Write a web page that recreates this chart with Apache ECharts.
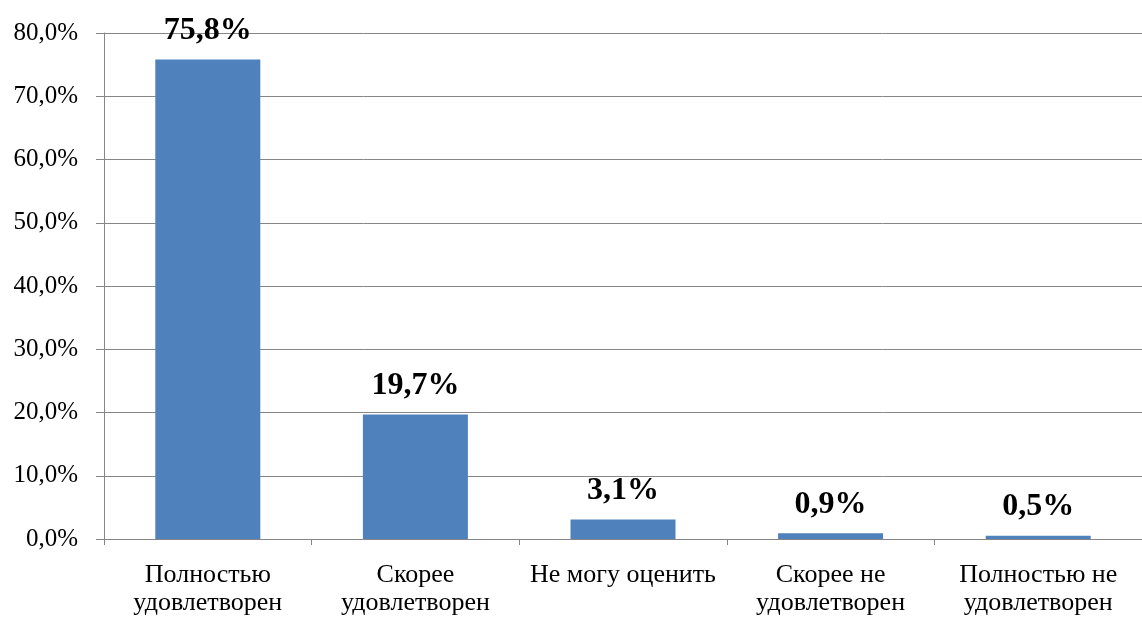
<!DOCTYPE html>
<html>
<head>
<meta charset="utf-8">
<script src="https://cdn.jsdelivr.net/npm/echarts@6/dist/echarts.min.js"></script>
<style>
  html, body { margin: 0; padding: 0; background: #fff; }
  #chart { width: 1142px; height: 617px; }
</style>
</head>
<body>
<div id="chart"></div>
<script>
const categories = [
  'Полностью\nудовлетворен',
  'Скорее\nудовлетворен',
  'Не могу оценить',
  'Скорее не\nудовлетворен',
  'Полностью не\nудовлетворен'
];
const values = [75.8, 19.7, 3.1, 0.9, 0.5];

const fmt = (v, d) => v.toFixed(d).replace('.', ',') + '%';

const chart = echarts.init(document.getElementById('chart'));
chart.setOption({
  backgroundColor: '#fff',
  animation: false,
  textStyle: { fontFamily: 'Liberation Serif' },
  grid: { left: 104, right: 0, top: 33, bottom: 76, containLabel: false },
  xAxis: {
    type: 'category',
    data: categories,
    axisLine: { lineStyle: { color: '#868686', width: 1 } },
    axisTick: { show: true, length: 6, lineStyle: { color: '#868686' } },
    axisLabel: {
      color: '#000', fontSize: 26, lineHeight: 28, margin: 22,
      fontFamily: 'Liberation Serif', interval: 0
    }
  },
  yAxis: {
    type: 'value',
    min: 0, max: 80, interval: 10,
    axisLine: { show: true, lineStyle: { color: '#868686', width: 1 } },
    axisTick: { show: true, length: 8, lineStyle: { color: '#868686' } },
    splitLine: { lineStyle: { color: '#868686', width: 1 } },
    axisLabel: {
      color: '#000', fontSize: 25, margin: 26,
      fontFamily: 'Liberation Serif',
      formatter: v => fmt(v, 1)
    }
  },
  series: [{
    type: 'bar',
    data: values,
    barWidth: 105,
    itemStyle: { color: '#4F81BD' },
    label: {
      show: true, position: 'top', distance: 13,
      color: '#000', fontSize: 32, fontWeight: 'bold',
      fontFamily: 'Liberation Serif',
      formatter: p => fmt(p.value, 1)
    }
  }]
});
</script>
</body>
</html>
